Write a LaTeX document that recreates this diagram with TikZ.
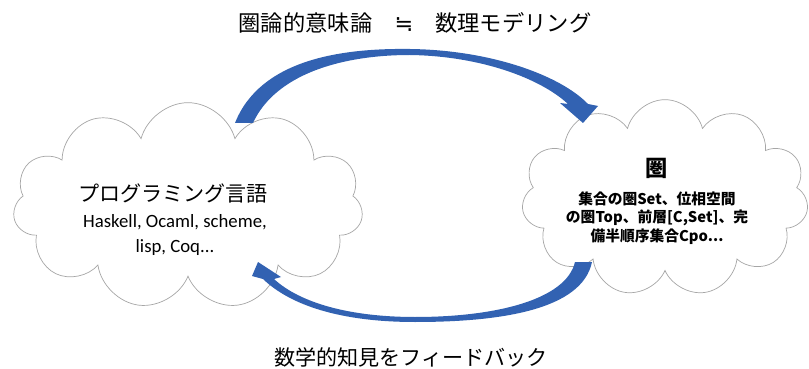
\documentclass[tikz,border=0pt]{standalone}
\usepackage{fontspec}
\setmainfont{Carlito}
\newfontfamily\jpfont{Noto Sans CJK JP}
\newfontfamily\symfont{DejaVu Sans}
\usetikzlibrary{shapes.symbols,positioning}
\definecolor{arrowblue}{RGB}{50,98,178}

\begin{document}
\begin{tikzpicture}[x=0.03cm, y=-0.03cm,
  every node/.style={inner sep=0pt},
  cloudbox/.style={cloud, cloud puffs=11, cloud ignores aspect, draw=gray!70, fill=white,
                   line width=0.6pt},
  jptext/.style={font=\jpfont\fontsize{18}{21}\selectfont},
  cattext/.style={font=\jpfont\bfseries\fontsize{12.6}{15.8}\selectfont, align=center},
  bigarrow/.style={fill=arrowblue, draw=none}
]
\useasboundingbox (0,0) rectangle (809,369);

%% clouds
\node[cloudbox, minimum width=10.5cm, minimum height=6.2cm] (lang) at (188,206) {};
\node[cloudbox, minimum width=8.6cm, minimum height=5.9cm] (cat) at (665,198) {};

%% left cloud text
\node[jptext] (langname) at (173,193) {プログラミング言語};
\node[font=\fontsize{16}{21}\selectfont, align=center] (langlist) at (175,235)
  {Haskell, Ocaml, scheme,\\lisp, Coq...};

%% right cloud text
\node[font=\jpfont\bfseries\fontsize{19}{22}\selectfont] (catname) at (657,168) {圏};
\node[cattext] (catlist) at (657,218)
  {集合の圏Set、位相空間\\の圏Top、前層[C,Set]、完\\備半順序集合Cpo...};

%% top arrow: language -> category
\fill[bigarrow] (235,123) .. controls (260,60) and (340,48) .. (410,49)
  .. controls (490,50) and (560,75) .. (588,104) -- (598,106) -- (583,123)
  -- (560,103) -- (568,104) .. controls (540,78) and (480,56) .. (410,55)
  .. controls (340,55) and (275,75) .. (253,123) -- cycle;
\node[font=\jpfont\fontsize{19}{22}\selectfont] (semantics) at (415,23)
  {圏論的意味論\quad{\symfont ≒}\quad 数理モデリング};

%% bottom arrow: category -> language
\fill[bigarrow] (592,262) .. controls (582,310) and (500,322) .. (415,322)
  .. controls (340,322) and (290,305) .. (263,279) -- (252,276) -- (258,262)
  -- (281,277) -- (274,279) .. controls (300,303) and (350,317) .. (415,317)
  .. controls (495,317) and (566,300) .. (575,262) -- cycle;
\node[jptext] (feedback) at (411,357) {数学的知見をフィードバック};

\end{tikzpicture}
\end{document}
